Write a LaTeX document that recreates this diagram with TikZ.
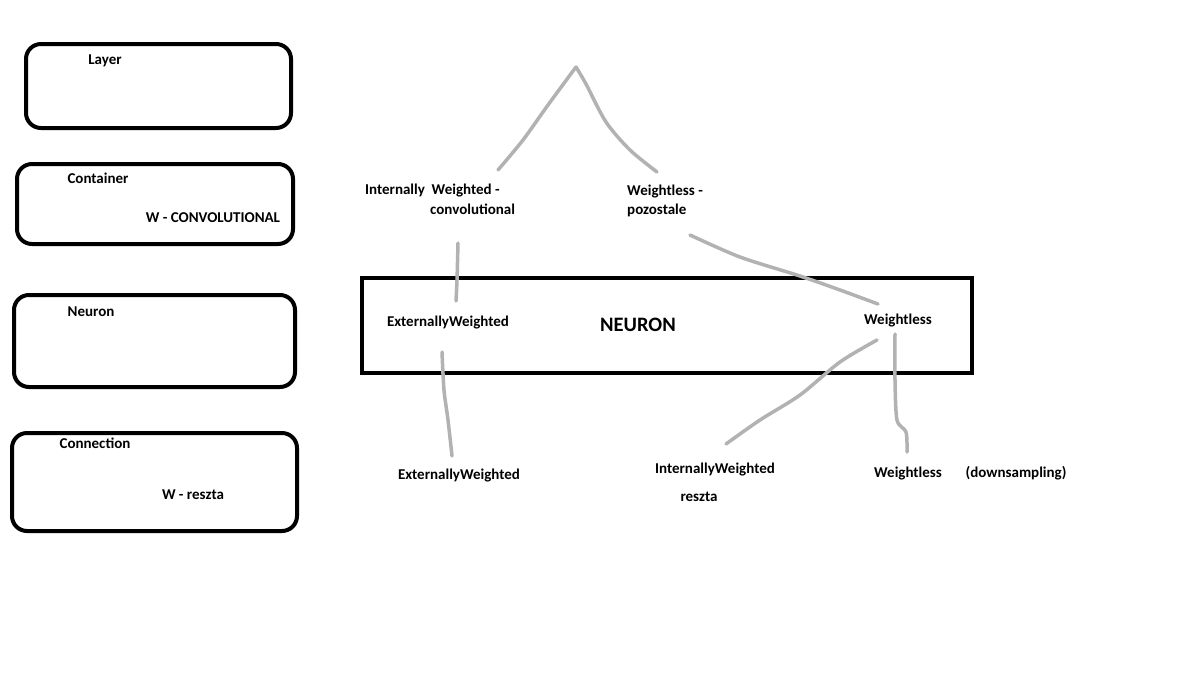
\documentclass[tikz,border=0pt]{standalone}
\usepackage{fontspec}
\setmainfont{Carlito}
\usetikzlibrary{
		calc,
		positioning
	}
\tikzset{
		>=stealth,
		levelbox/.style={line width=4pt,rounded corners=15pt},
		neuronbox/.style={line width=4pt},
		txt/.style={font=\fontsize{15}{18}\selectfont\bfseries,inner sep=0pt},
		bigtxt/.style={font=\fontsize{20.5}{24}\selectfont\bfseries,inner sep=0pt},
		sketch/.style={line width=3.5pt,color=gray!60,line cap=round,line join=round}
	}
\begin{document}
\begin{tikzpicture}[x=1pt,y=-1pt]
          \useasboundingbox (0,0) rectangle (1200,681);

          % levels on the left
          \draw[levelbox] (26,44) rectangle (291,128);
          \draw[levelbox] (17,164) rectangle (293,244);
          \draw[levelbox] (14,295) rectangle (295,387);
          \draw[levelbox] (12,433) rectangle (297,531);

          \node[txt] (layer) at (105,61) {Layer};
          \node[txt] (container) at (98,178) {Container};
          \node[txt] (wconv) at (213,218) {W - CONVOLUTIONAL};
          \node[txt] (neuron) at (91,312) {Neuron};
          \node[txt] (connection) at (95,443) {Connection};
          \node[txt] (wreszta) at (193,495) {W - reszta};

          % neuron box
          \draw[neuronbox] (362,278) rectangle (972,373);
          \node[bigtxt] (NEURON) at (638,325) {NEURON};

          % tree labels
          \node[txt,anchor=west] (internw) at (365,191) {Internally\ \ Weighted -};
          \node[txt,anchor=west] (conv) at (430,209) {convolutional};
          \node[txt,anchor=west] (weightl) at (627,192) {Weightless -};
          \node[txt,anchor=west] (pozost) at (627,210) {pozostale};

          \node[txt] (extw) at (448,323) {ExternallyWeighted};
          \node[txt] (wlessn) at (898,321) {Weightless};

          \node[txt] (extwc) at (459,475) {ExternallyWeighted};
          \node[txt] (intwc) at (715,469) {InternallyWeighted};
          \node[txt] (reszta) at (699,497) {reszta};
          \node[txt] (wlessc) at (908,473) {Weightless};
          \node[txt] (downs) at (1016,473) {(downsampling)};

          % hand drawn lines
          \coordinate (apex) at (576,67);
          \draw[sketch] plot[smooth] coordinates {(apex) (548,105) (523,140) (498,170)};
          \draw[sketch] plot[smooth] coordinates {(apex) (586,84) (606,122) (630,150) (657,172)};
          \draw[sketch] plot[smooth] coordinates {(458,243) (457,280) (456,301)};
          \draw[sketch] plot[smooth] coordinates {(690,235) (740,257) (800,276) (840,290) (878,304)};
          \draw[sketch] plot[smooth] coordinates {(442,352) (444,390) (448,420) (452,456)};
          \draw[sketch] plot[smooth] coordinates {(877,340) (840,362) (800,395) (760,420) (726,444)};
          \draw[sketch] plot[smooth] coordinates {(895,334) (895,380) (897,420) (906,432) (907,452)};

\end{tikzpicture}
\end{document}
